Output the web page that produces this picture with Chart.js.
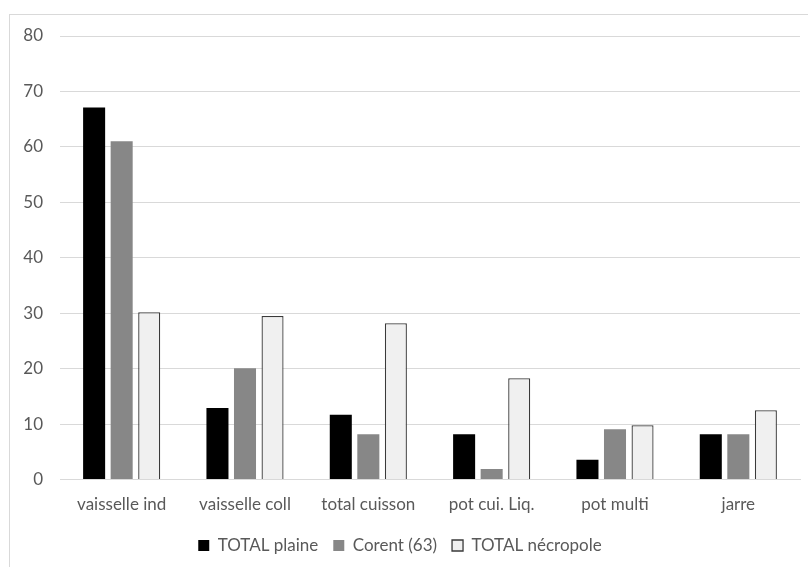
<!DOCTYPE html>
<html>
<head>
<meta charset="utf-8">
<script src="https://cdn.jsdelivr.net/npm/chart.js@4/dist/chart.umd.min.js"></script>
<style>
  html, body { margin: 0; padding: 0; background: #fff; overflow: hidden; }
  #frame { position: absolute; left: 9px; top: 14px; width: 820px; height: 600px; border: 1px solid #d9d9d9; }
  #wrap { position: absolute; left: 0; top: 0; width: 808px; height: 567px; }
</style>
</head>
<body>
<div id="frame"></div>
<div id="wrap"><canvas id="chart"></canvas></div>
<script>
var categories = ['vaisselle ind', 'vaisselle coll', 'total cuisson', 'pot cui. Liq.', 'pot multi', 'jarre'];
var totalPlaine = [67.1, 12.9, 11.7, 8.2, 3.6, 8.2];
var corent = [61.0, 20.1, 8.2, 1.9, 9.1, 8.2];
var totalNecropole = [30.2, 29.5, 28.2, 18.3, 9.8, 12.5];
var yTicks = [0, 10, 20, 30, 40, 50, 60, 70, 80];

var font = { family: 'Lato', size: 17 };

new Chart(document.getElementById('chart'), {
    type: 'bar',
    data: {
        labels: categories,
        datasets: [
            { label: 'TOTAL plaine', data: totalPlaine, backgroundColor: '#000000', borderColor: '#000000', borderWidth: 0 },
            { label: 'Corent (63)', data: corent, backgroundColor: '#878787', borderColor: '#878787', borderWidth: 0 },
            { label: 'TOTAL nécropole', data: totalNecropole, backgroundColor: '#f0f0f0', borderColor: '#3a3a3a', borderWidth: 1.3 }
        ]
    },
    options: {
        responsive: true,
        maintainAspectRatio: false,
        animation: false,
        categoryPercentage: 0.67,
        barPercentage: 0.8,
        layout: { padding: { left: 0, right: 8, top: 36, bottom: 3 } },
        plugins: {
            legend: {
                position: 'bottom',
                labels: { color: '#595959', font: font, boxWidth: 11, boxHeight: 11, padding: 15 }
            },
            tooltip: { enabled: false }
        },
        scales: {
            x: {
                grid: { display: false },
                border: { color: '#d9d9d9' },
                ticks: { color: '#595959', font: font, padding: 7 }
            },
            y: {
                min: 0,
                max: 80,
                afterFit: function(scale) { scale.width = 60; },
                afterBuildTicks: function(scale) { scale.ticks = yTicks.map(function(v){ return { value: v }; }); },
                grid: { color: '#d9d9d9', drawTicks: false },
                border: { display: false },
                ticks: { color: '#595959', font: font, padding: 17 }
            }
        }
    }
});
</script>
</body>
</html>
